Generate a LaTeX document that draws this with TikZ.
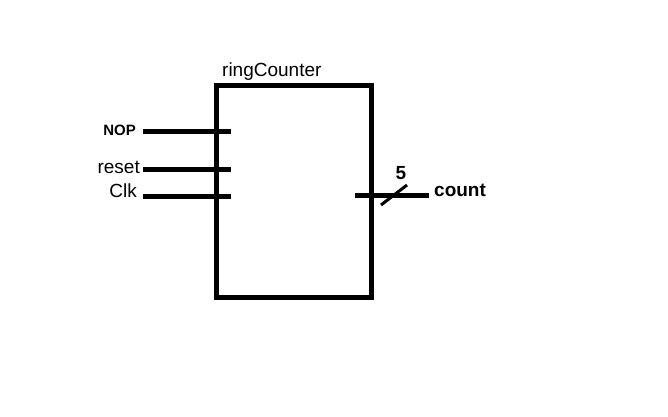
\documentclass[tikz,border=0pt]{standalone}
\usepackage{fontspec}
\setmainfont{Liberation Sans}
\begin{document}
\begin{tikzpicture}[x=1pt,y=-1pt,
  wire/.style={line width=5pt},
  lbl/.style={inner sep=0pt,font=\fontsize{19}{22}\selectfont},
  blbl/.style={inner sep=0pt,font=\fontsize{19}{22}\selectfont\bfseries}]
\useasboundingbox (0,0) rectangle (668,416);
\draw[wire] (216.5,85) rectangle (371,297);
\node[lbl,anchor=west] (title) at (222,72) {ringCounter};
% inputs
\coordinate (nopS) at (143,131);
\coordinate (nopE) at (231,131);
\coordinate (rstS) at (143,169);
\coordinate (rstE) at (231,169);
\coordinate (clkS) at (143,196);
\coordinate (clkE) at (231,196);
\draw[wire] (nopS) -- (nopE);
\draw[wire] (rstS) -- (rstE);
\draw[wire] (clkS) -- (clkE);
\node[inner sep=0pt,font=\fontsize{15}{17}\selectfont\bfseries,anchor=east] (nop) at (136,130) {NOP};
\node[lbl,anchor=east] (rst) at (140,167) {reset};
\node[lbl,anchor=east] (clk) at (137,191) {Clk};
% output
\coordinate (outS) at (355,195);
\coordinate (outE) at (429,195);
\draw[wire] (outS) -- (outE);
\coordinate (slA) at (381,205);
\coordinate (slB) at (407,185);
\draw[line width=3pt] (slA) -- (slB);
\node[blbl] (five) at (401,173) {5};
\node[blbl,anchor=west] (count) at (434,190) {count};
\end{tikzpicture}
\end{document}
